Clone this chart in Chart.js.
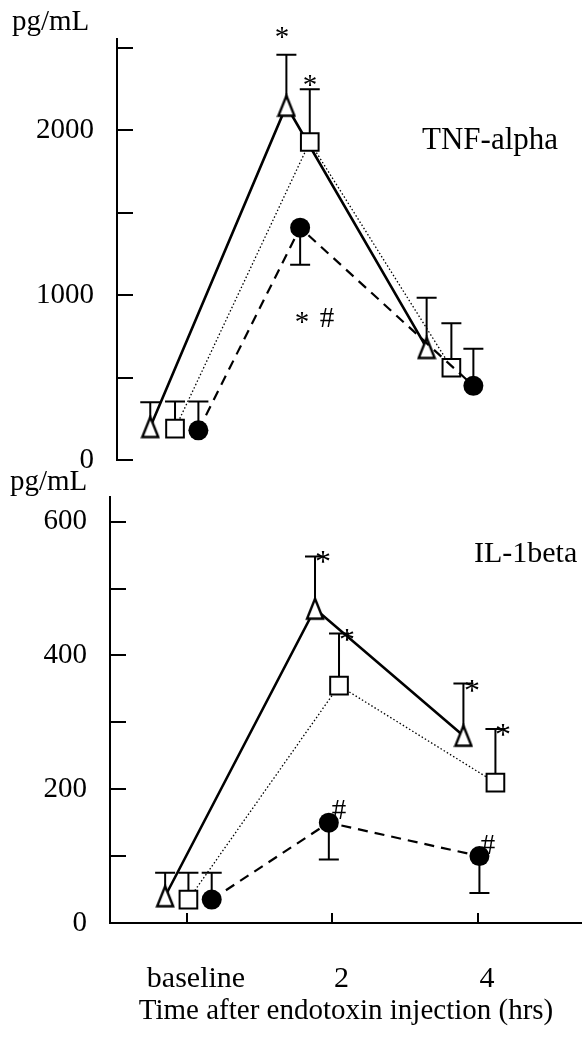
<!DOCTYPE html>
<html>
<head>
<meta charset="utf-8">
<script src="https://cdn.jsdelivr.net/npm/chart.js@4.4.1/dist/chart.umd.min.js"></script>
<style>
  html, body { margin: 0; padding: 0; background: #fff; }
  #wrap { position: relative; width: 582px; height: 1042px; }
  canvas { position: absolute; left: 0; }
  #tnfChart { top: 0; }
  #ilChart { top: 470px; }
</style>
</head>
<body>
<div id="wrap">
  <canvas id="tnfChart" width="582" height="480" style="width:582px;height:480px"></canvas>
  <canvas id="ilChart" width="582" height="572" style="width:582px;height:572px"></canvas>
</div>
<script>
const timePoints = ['baseline', '2', '4'];

// TNF-alpha (pg/mL), mean and SEM per group
const tnfTriangle = [200, 2150, 680];
const tnfTriangleErr = [150, 310, 305];
const tnfSquare = [190, 1930, 560];
const tnfSquareErr = [165, 320, 270];
const tnfCircle = [180, 1410, 450];
const tnfCircleErr = [175, 225, 225];
const tnfTicks = [0, 500, 1000, 1500, 2000, 2500];
const tnfTickLabels = [0, 1000, 2000];

// IL-1beta (pg/mL)
const ilTriangle = [40, 470, 280];
const ilTriangleErr = [35, 78, 78];
const ilSquare = [35, 355, 210];
const ilSquareErr = [40, 78, 80];
const ilCircle = [35, 150, 100];
const ilCircleErr = [40, 55, 55];
const ilTicks = [0, 100, 200, 300, 400, 500, 600];
const ilTickLabels = [0, 200, 400, 600];

// which way each error bar points (1 = up, -1 = down)
const tnfCircleSide = [1, -1, 1];
const ilCircleSide = [1, -1, -1];

// horizontal offsets of each group around its time point
const tnfDodge = { triangle: [-0.18, -0.19, -0.17], square: [0, -0.02, 0.01], circle: [0.17, -0.09, 0.17] };
const ilDodge = { triangle: [-0.15, -0.12, -0.10], square: [0.01, 0.045, 0.12], circle: [0.17, -0.025, 0.01] };

const FONT = '"Liberation Serif", "Times New Roman", serif';

// open triangle marker, a bit taller than wide
function makeTriangle() {
  const c = document.createElement('canvas');
  c.width = 20; c.height = 25;
  const g = c.getContext('2d');
  g.beginPath();
  g.moveTo(10, 2.5);
  g.lineTo(18, 22.5);
  g.lineTo(2, 22.5);
  g.closePath();
  g.fillStyle = '#fff';
  g.fill();
  g.lineWidth = 2.4;
  g.strokeStyle = '#000';
  g.stroke();
  return c;
}
const triangleMark = makeTriangle();

const lineStyles = {
  triangle: { borderWidth: 2.6, borderDash: [], pointStyle: triangleMark, pointRadius: 10, pointBackgroundColor: '#fff', pointBorderWidth: 0 },
  square: { borderWidth: 1.3, borderDash: [1.5, 2.2], pointStyle: 'rect', pointRadius: 12.5, pointBackgroundColor: '#fff', pointBorderWidth: 2 },
  circle: { borderWidth: 2.2, borderDash: [10, 7], pointStyle: 'circle', pointRadius: 10, pointBackgroundColor: '#000', pointBorderWidth: 0 }
};

const series = (kind, values, dodge, err, side) => ({
  data: values.map((v, i) => ({ x: i + dodge[i], y: v })),
  err: err,
  errSide: side || values.map(() => 1),
  borderColor: '#000',
  pointBorderColor: '#000',
  tension: 0,
  fill: false,
  ...lineStyles[kind]
});

const errorBars = {
  id: 'errorBars',
  beforeDatasetsDraw(chart) {
    const { ctx } = chart;
    const sx = chart.scales.x, sy = chart.scales.y;
    ctx.save();
    ctx.strokeStyle = '#000';
    ctx.lineWidth = 2;
    chart.data.datasets.forEach(ds => {
      ds.data.forEach((p, i) => {
        const px = sx.getPixelForValue(p.x);
        const y0 = sy.getPixelForValue(p.y);
        const y1 = sy.getPixelForValue(p.y + ds.errSide[i] * ds.err[i]);
        ctx.beginPath();
        ctx.moveTo(px, y0);
        ctx.lineTo(px, y1);
        ctx.moveTo(px - 10, y1);
        ctx.lineTo(px + 10, y1);
        ctx.stroke();
      });
    });
    ctx.restore();
  }
};

// tick marks drawn on the inner side of the axes, plus the free text
const panelText = {
  id: 'panelText',
  afterDraw(chart, args, opts) {
    const { ctx, chartArea } = chart;
    const sx = chart.scales.x, sy = chart.scales.y;
    ctx.save();
    ctx.strokeStyle = '#000';
    ctx.lineWidth = 2;
    ctx.beginPath();
    sy.ticks.forEach(t => {
      const py = Math.round(sy.getPixelForValue(t.value));
      ctx.moveTo(chartArea.left - 1, py);
      ctx.lineTo(chartArea.left + 16, py);
    });
    if (opts.xTicks) {
      sx.ticks.forEach(t => {
        const px = Math.round(sx.getPixelForValue(t.value));
        ctx.moveTo(px, chartArea.bottom);
        ctx.lineTo(px, chartArea.bottom - 10);
      });
    }
    ctx.stroke();

    ctx.fillStyle = '#000';
    ctx.textBaseline = 'alphabetic';
    (opts.labels || []).forEach(l => {
      ctx.font = `${l.size}px ${FONT}`;
      ctx.textAlign = 'left';
      ctx.fillText(l.text, l.left, l.baseline);
    });
    (opts.marks || []).forEach(m => {
      ctx.font = `${m.size || 29}px ${FONT}`;
      ctx.textAlign = 'center';
      const box = ctx.measureText(m.text);
      const py = sy.getPixelForValue(m.y) + (box.actualBoundingBoxAscent - box.actualBoundingBoxDescent) / 2;
      ctx.fillText(m.text, sx.getPixelForValue(m.x), py);
    });
    ctx.restore();
  }
};

// keep tick labels from pushing the plot area around
const noLabelPadding = scale => {
  scale.paddingTop = 0;
  scale.paddingBottom = 0;
  scale.paddingLeft = 0;
  scale.paddingRight = 0;
};

const yScale = (max, ticks, labels, width) => ({
  type: 'linear',
  min: 0,
  max: max,
  afterBuildTicks: scale => { scale.ticks = ticks.map(v => ({ value: v })); },
  afterFit: scale => { scale.width = width; noLabelPadding(scale); },
  grid: { display: false, drawTicks: false },
  border: { display: true, color: '#000', width: 2 },
  ticks: {
    padding: 23,
    color: '#000',
    font: { family: FONT, size: 29 },
    callback: v => labels.includes(v) ? String(v) : ''
  }
});

const baseOptions = {
  responsive: false,
  animation: false,
  events: [],
  plugins: { legend: { display: false }, tooltip: { enabled: false } }
};

// TNF-alpha panel
new Chart(document.getElementById('tnfChart'), {
  type: 'line',
  data: {
    datasets: [
      series('circle', tnfCircle, tnfDodge.circle, tnfCircleErr, tnfCircleSide),
      series('square', tnfSquare, tnfDodge.square, tnfSquareErr),
      series('triangle', tnfTriangle, tnfDodge.triangle, tnfTriangleErr)
    ]
  },
  options: {
    ...baseOptions,
    layout: { autoPadding: false, padding: { top: 39, bottom: 20, left: 0, right: 0 } },
    scales: {
      x: { type: 'linear', display: false, min: -0.422, max: 2.96 },
      y: yScale(2555, tnfTicks, tnfTickLabels, 117)
    },
    plugins: {
      ...baseOptions.plugins,
      panelText: {
        labels: [
          { text: 'pg/mL', left: 12, baseline: 30, size: 29 },
          { text: 'TNF-alpha', left: 422, baseline: 149, size: 31 }
        ],
        marks: [
          { text: '*', x: 0.778, y: 2597 },
          { text: '*', x: 0.982, y: 2306 },
          { text: '*', x: 0.924, y: 862 },
          { text: '#', x: 1.105, y: 862 }
        ]
      }
    }
  },
  plugins: [errorBars, panelText]
});

// IL-1beta panel
new Chart(document.getElementById('ilChart'), {
  type: 'line',
  data: {
    datasets: [
      series('circle', ilCircle, ilDodge.circle, ilCircleErr, ilCircleSide),
      series('square', ilSquare, ilDodge.square, ilSquareErr),
      series('triangle', ilTriangle, ilDodge.triangle, ilTriangleErr)
    ]
  },
  options: {
    ...baseOptions,
    layout: { autoPadding: false, padding: { top: 27, bottom: 0, left: 0, right: 0 } },
    scales: {
      x: {
        type: 'linear',
        min: -0.529,
        max: 2.715,
        afterBuildTicks: scale => { scale.ticks = timePoints.map((_, i) => ({ value: i })); },
        afterFit: scale => { scale.height = 119; noLabelPadding(scale); },
        grid: { display: false, drawTicks: false },
        border: { display: true, color: '#000', width: 2 },
        ticks: {
          padding: 38,
          labelOffset: 9,
          maxRotation: 0,
          color: '#000',
          font: { family: FONT, size: 30 },
          callback: v => timePoints[v]
        },
        title: {
          display: true,
          text: 'Time after endotoxin injection (hrs)',
          color: '#000',
          font: { family: FONT, size: 29 },
          padding: { top: 0, bottom: 13 }
        }
      },
      y: yScale(637, ilTicks, ilTickLabels, 110)
    },
    plugins: {
      ...baseOptions.plugins,
      panelText: {
        xTicks: true,
        labels: [
          { text: 'pg/mL', left: 10, baseline: 20, size: 29 },
          { text: 'IL-1beta', left: 474, baseline: 92, size: 30 }
        ],
        marks: [
          { text: '*', x: 0.935, y: 548, size: 32 },
          { text: '*', x: 1.10, y: 431, size: 32 },
          { text: '*', x: 1.959, y: 355, size: 32 },
          { text: '*', x: 2.172, y: 289, size: 32 },
          { text: '#', x: 1.045, y: 169 },
          { text: '#', x: 2.069, y: 117 }
        ]
      }
    }
  },
  plugins: [errorBars, panelText]
});
</script>
</body>
</html>
